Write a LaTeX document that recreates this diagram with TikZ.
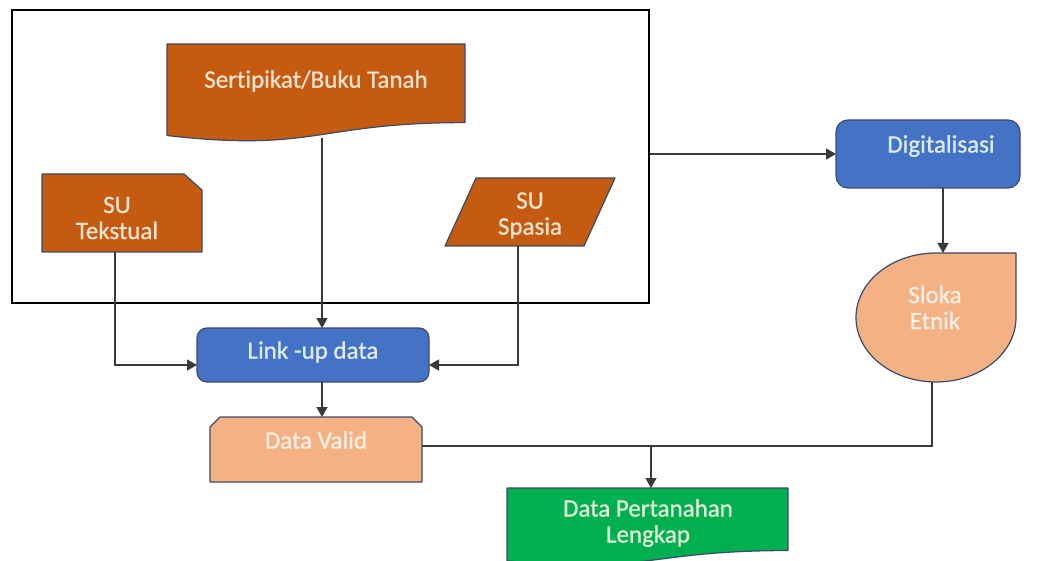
\documentclass[tikz,border=0pt]{standalone}
\usepackage{fontspec}
\setmainfont{Carlito}[Ligatures=NoCommon,FakeBold=0.8]
\usetikzlibrary{calc,arrows.meta}

\definecolor{rust}{HTML}{C55A11}
\definecolor{rusttxt}{HTML}{FCE4D0}
\definecolor{peach}{HTML}{F4B183}
\definecolor{peachtxt}{HTML}{FDF1E7}
\definecolor{royal}{HTML}{4472C4}
\definecolor{royaltxt}{HTML}{DDEBF7}
\definecolor{leaf}{HTML}{00B050}
\definecolor{leaftxt}{HTML}{E2F0D9}
\definecolor{edge}{HTML}{3B4B6B}
\definecolor{wire}{HTML}{3A3A3A}

\begin{document}
\begin{tikzpicture}[x=1pt,y=-1pt,
  holder/.style={draw=none,inner sep=0pt,outer sep=0pt},
  outline/.style={draw=edge,line width=1.2pt,line join=round},
  txt/.style={font=\fontsize{25}{26}\selectfont,align=center,inner sep=0pt},
  wireline/.style={draw=wire,line width=1.3pt},
  arr/.style={wireline,-{Triangle[length=10pt,width=11pt]}},
]

\clip (0,0) rectangle (1038,561);

% outer frame grouping the three sources
\node[draw=black,line width=2pt,inner sep=0pt,minimum width=637pt,minimum height=293pt] (frame) at (330.5,156.5) {};

% placeholders giving each shape its bounding box
\node[holder,minimum width=298pt,minimum height=98pt] (cert) at (316,93) {};
\node[holder,minimum width=160pt,minimum height=78pt] (tek) at (122,213) {};
\node[holder,minimum width=170pt,minimum height=68pt] (spa) at (530,212) {};
\node[holder,minimum width=232pt,minimum height=54pt] (link) at (313,355) {};
\node[holder,minimum width=212pt,minimum height=65pt] (valid) at (316,449.5) {};
\node[holder,minimum width=184pt,minimum height=68pt] (dig) at (928,154) {};
\node[holder,minimum width=160pt,minimum height=129pt] (sloka) at (936,317.5) {};
\node[holder,minimum width=281pt,minimum height=78pt] (final) at (647.5,527) {};

% document shape: Sertipikat/Buku Tanah
\draw[outline,fill=rust] (cert.north west) -- (cert.north east)
  -- ($(cert.north east)!0.802!(cert.south east)$)
  .. controls ($(cert.north)!0.802!(cert.south)$) and ($(cert.north)!1.107!(cert.south)$)
  .. ($(cert.north west)!0.934!(cert.south west)$) -- cycle;

% snipped-corner rectangle: SU Tekstual
\draw[outline,fill=rust] (tek.north west) -- ($(tek.north east)+(-18,0)$)
  -- ($(tek.north east)+(0,16)$) -- (tek.south east) -- (tek.south west) -- cycle;

% parallelogram: SU Spasia
\draw[outline,fill=rust] ($(spa.north west)+(31,0)$) -- (spa.north east)
  -- ($(spa.south east)+(-31,0)$) -- (spa.south west) -- cycle;

% rounded process boxes
\draw[outline,fill=royal,rounded corners=10pt] (link.north west) rectangle (link.south east);
\draw[outline,fill=royal,rounded corners=12pt] (dig.north west) rectangle (dig.south east);

% both top corners snipped: Data Valid
\draw[outline,fill=peach] ($(valid.north west)+(10,0)$) -- ($(valid.north east)+(-10,0)$)
  -- ($(valid.north east)+(0,10)$) -- (valid.south east) -- (valid.south west)
  -- ($(valid.north west)+(0,10)$) -- cycle;

% teardrop: Sloka Etnik
\draw[outline,fill=peach] (sloka.north) -- (sloka.north east) -- (sloka.east)
  arc[start angle=0,end angle=270,x radius=80,y radius=64.5] -- cycle;

% document shape: Data Pertanahan Lengkap
\draw[outline,fill=leaf] (final.north west) -- (final.north east)
  -- ($(final.north east)!0.802!(final.south east)$)
  .. controls ($(final.north)!0.802!(final.south)$) and ($(final.north)!1.107!(final.south)$)
  .. ($(final.north west)!0.934!(final.south west)$) -- cycle;

% labels
\node[txt,text=rusttxt] (certtxt) at (316,81) {Sertipikat/Buku Tanah};
\node[txt,text=rusttxt] (tektxt) at (117,218) {SU\\Tekstual};
\node[txt,text=rusttxt] (spatxt) at (530,215.5) {SU\\Spasia};
\node[txt,text=royaltxt] (linktxt) at (313,352) {Link -up data};
\node[txt,text=peachtxt] (validtxt) at (316,440) {Data Valid};
\node[txt,text=royaltxt] (digtxt) at (941,146) {Digitalisasi};
\node[txt,text=peachtxt] (slokatxt) at (935,307.5) {Sloka\\Etnik};
\begin{scope}
  \clip (0,0) rectangle (1038,546);
  \node[txt,text=leaftxt] (finaltxt) at (648,523) {Data Pertanahan\\Lengkap};
\end{scope}

% connectors
\coordinate (certout) at ($(cert.south)+(6,-4)$);
\draw[arr] (certout) -- (certout |- link.north);

\coordinate (tekout) at ($(tek.south)+(-7,0)$);
\draw[arr] (tekout) |- ($(link.west)+(0,10)$);

\coordinate (spaout) at ($(spa.south)+(-12,0)$);
\draw[arr] (spaout) |- ($(link.east)+(0,10)$);

\coordinate (linkout) at ($(link.south)+(9,0)$);
\draw[arr] (linkout) -- (linkout |- valid.north);

\draw[arr] (frame.east |- dig.west) -- (dig.west);

\coordinate (digout) at ($(dig.south)+(15,0)$);
\draw[arr] (digout) -- (digout |- sloka.north);

\coordinate (join) at (651,446);
\draw[wireline] ($(sloka.south)+(-4,0)$) |- (join) -- (join -| valid.east);
\draw[arr] (join) -- (join |- final.north);

\end{tikzpicture}
\end{document}
